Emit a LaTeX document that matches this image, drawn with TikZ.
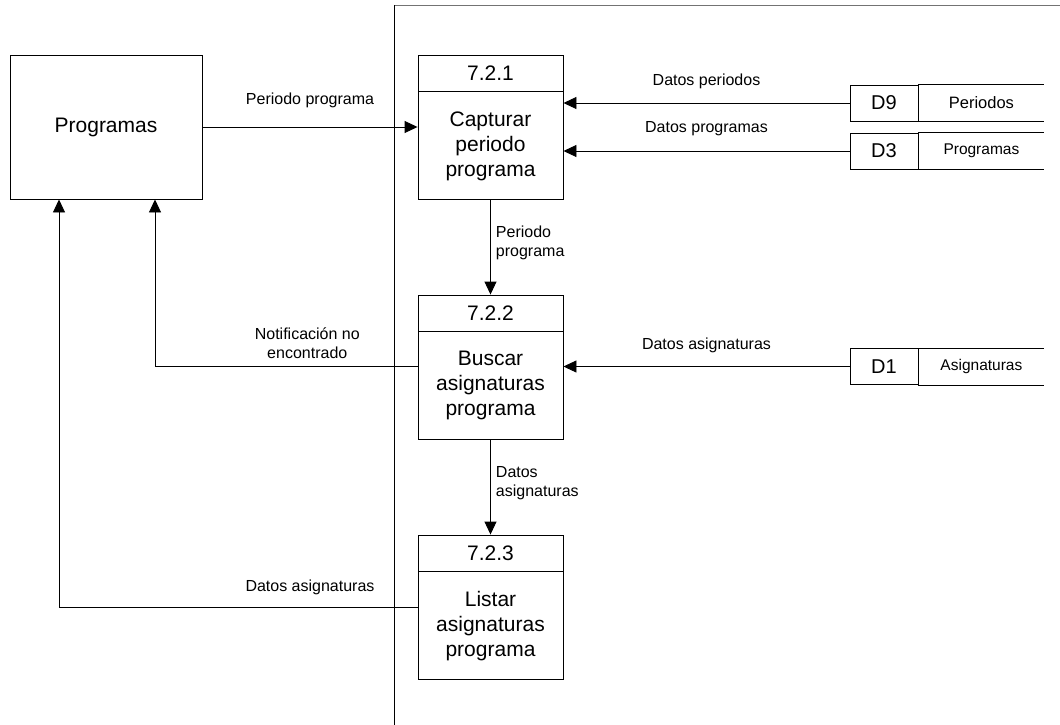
\documentclass[tikz,border=0pt]{standalone}
\usepackage{fontspec}
\setmainfont{Liberation Sans}
\usetikzlibrary{arrows.meta, positioning}

\begin{document}
\begin{tikzpicture}[
  x=1pt, y=-1pt, line width=0.9pt,
  every node/.style={font=\fontsize{16}{19}\selectfont},
  entity/.style={rectangle, draw, minimum width=192pt, minimum height=144pt, font=\fontsize{21}{25}\selectfont},
  prochdr/.style={rectangle, draw, minimum width=145pt, minimum height=36pt, font=\fontsize{21}{25}\selectfont},
  procbody/.style={rectangle, draw, minimum width=145pt, minimum height=108pt, align=center, font=\fontsize{21}{25}\selectfont},
  storeid/.style={rectangle, draw, minimum width=68pt, minimum height=36pt, font=\fontsize{20}{24}\selectfont},
  storename/.style={rectangle, minimum width=125pt, minimum height=36pt, font=\fontsize{15.5}{18}\selectfont},
  flow/.style={-{Triangle[length=13pt, width=12pt]}},
  lbl/.style={inner sep=1pt, align=center, font=\fontsize{16}{19}\selectfont},
]
\useasboundingbox (0,0) rectangle (1060,725);

% Frontier of the system
\draw[black!55] (394,5) -- (1060,5);
\draw (394,5) -- (394,725);

% External entity
\node[entity] (prog) at (106,127) {Programas};

% Processes
\node[prochdr] (p1h) at (490.5,73) {7.2.1};
\node[procbody, anchor=north] (p1) at (p1h.south) {Capturar\\periodo\\programa};
\node[prochdr] (p2h) at (490.5,313) {7.2.2};
\node[procbody, anchor=north] (p2) at (p2h.south) {Buscar\\asignaturas\\programa};
\node[prochdr] (p3h) at (490.5,553) {7.2.3};
\node[procbody, anchor=north] (p3) at (p3h.south) {Listar\\asignaturas\\programa};

% Data stores
\node[storeid] (d9) at (884,103) {D9};
\node[storename, right=0pt of d9, font=\fontsize{16.5}{19}\selectfont] (d9n) {Periodos};
\node[storeid] (d3) at (884,151) {D3};
\node[storename, right=0pt of d3] (d3n) {Programas};
\node[storeid] (d1) at (884,366.5) {D1};
\node[storename, right=0pt of d1] (d1n) {Asignaturas};
\foreach \s in {d9,d3,d1}
  \draw (\s.north east) -- (\s n.north east) (\s.south east) -- (\s n.south east);

% Flows
\draw[flow] (prog.east) -- (prog.east -| p1.west) node[lbl, midway, above=17.5pt] {Periodo programa};
\draw[flow] (d9.west) -- (d9.west -| p1.east) node[lbl, midway, above=12.5pt] {Datos periodos};
\draw[flow] (d3.west) -- (d3.west -| p1.east) node[lbl, midway, above=13.5pt] {Datos programas};
\draw[flow] (p1.south) -- (p2h.north) node[lbl, midway, right=4pt, yshift=5pt, align=left] {Periodo\\programa};
\draw[flow] (d1.west) -- (d1.west -| p2.east) node[lbl, midway, above=12.5pt] {Datos asignaturas};
\draw[flow] (p2.west |- d1.west) -| ([xshift=49pt]prog.south) node[lbl, pos=0.21, above=6.5pt] {Notificación no\\encontrado};
\draw[flow] (p2.south) -- (p3h.north) node[lbl, midway, right=4pt, yshift=4pt, align=left] {Datos\\asignaturas};
\draw[flow] ([yshift=18pt]p3.west) -| ([xshift=-47pt]prog.south) node[lbl, pos=0.15, above=11.5pt] {Datos asignaturas};

\end{tikzpicture}
\end{document}
